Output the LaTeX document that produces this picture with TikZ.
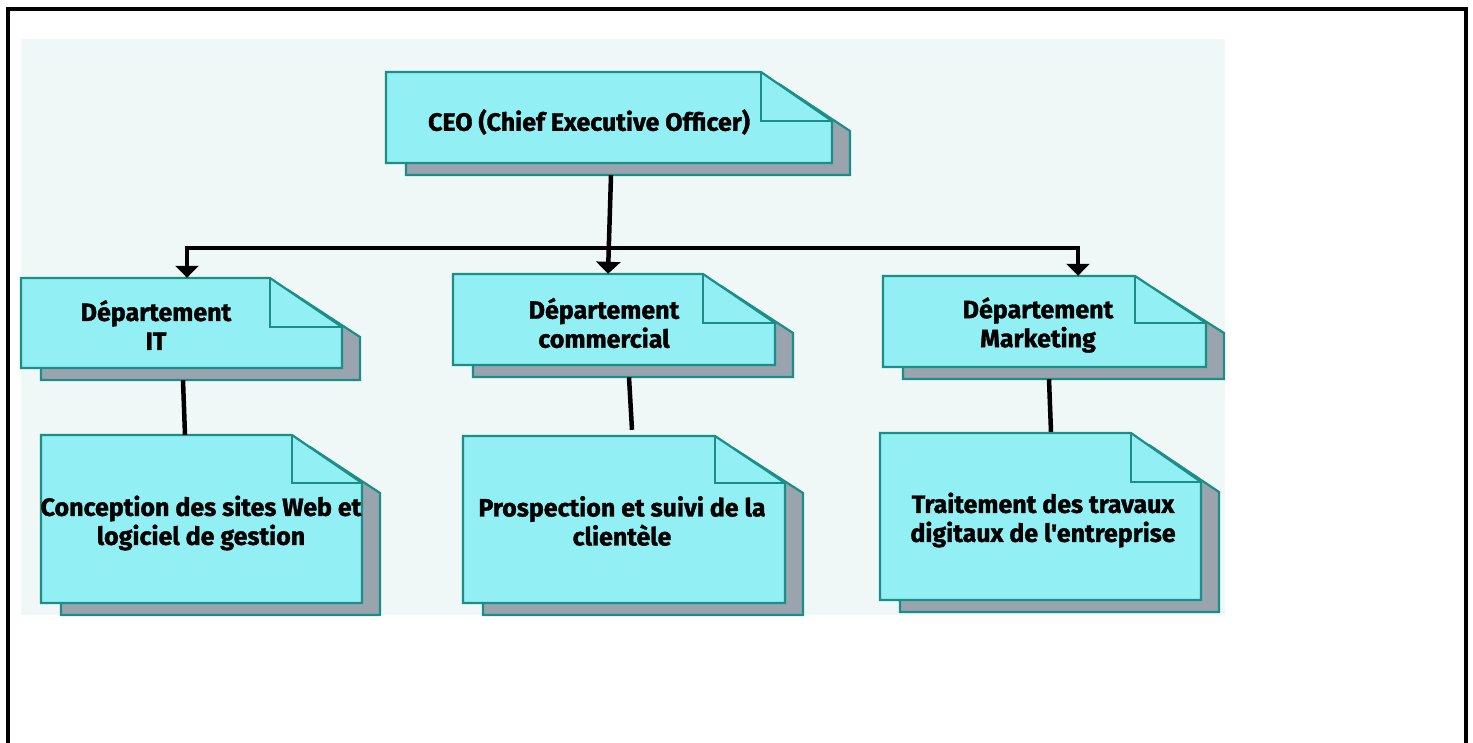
\documentclass[tikz,border=0pt]{standalone}
\usepackage{fontspec}
\setmainfont{Fira Sans}[Ligatures=TeXOff, BoldFeatures={FakeBold=1.3}]
\usetikzlibrary{arrows.meta,calc}

\definecolor{notefill}{RGB}{146,240,245}
\definecolor{noteedge}{RGB}{28,142,136}
\definecolor{noteshadow}{RGB}{154,164,174}
\definecolor{panel}{RGB}{239,248,247}

% folded-corner note with a grey drop shadow
% #1 name, #2 left, #3 top, #4 right, #5 bottom, #6 fold x, #7 fold y
\newcommand{\foldnote}[7]{%
  \filldraw[noteshadow, draw=noteedge, line width=2.2pt]
    (#2+20,#3+12) -- (#6+18,#3+12) -- (#4+18,#7+10) -- (#4+18,#5+12) -- (#2+20,#5+12) -- cycle;
  \filldraw[notefill, draw=noteedge, line width=2.2pt, line join=miter]
    (#2,#3) -- (#6,#3) -- (#4,#7) -- (#4,#5) -- (#2,#5) -- cycle;
  \draw[noteedge, line width=2.2pt] (#6,#3) -- (#6,#7) -- (#4,#7);
  \node[inner sep=0pt, minimum width={(#4-#2)*1pt}, minimum height={(#5-#3)*1pt}]
    (#1) at ({(#2+#4)/2},{(#3+#5)/2}) {};
}

\tikzset{
  notetext/.style={align=center, inner sep=0pt, text=black,
    font=\fontsize{25}{29}\selectfont\bfseries},
  link/.style={line width=4.5pt, draw=black},
  arrowlink/.style={line width=4.5pt, draw=black,
    -{Triangle[width=24pt,length=12pt]}},
  barlink/.style={line width=3.5pt, draw=black,
    {Triangle[width=23pt,length=12pt]}-{Triangle[width=23pt,length=12pt]}},
}

\begin{document}
\begin{tikzpicture}[x=1pt,y=-1pt]
  \useasboundingbox (0,0) rectangle (1473,742);
  \clip (0,0) rectangle (1473,742);

  % outer frame and light panel
  \draw[line width=4.5pt] (8,9) rectangle (1466,770);
  \fill[panel] (21,39) rectangle (1225,615);

  % boxes
  \foldnote{ceo}{386}{72}{832}{163}{761}{121}
  \foldnote{itdept}{21}{278}{342}{368}{270}{327}
  \foldnote{commercial}{453}{274}{775}{365}{703}{323}
  \foldnote{marketing}{883}{276}{1206}{367}{1135}{323}
  \foldnote{conception}{41}{435}{362}{603}{292}{483}
  \foldnote{prospection}{463}{436}{785}{603}{715}{483}
  \foldnote{traitement}{880}{433}{1201}{600}{1131}{482}

  % labels
  \node[notetext] (ceo-t) at (589,122) {CEO (Chief Executive Officer)};
  \node[notetext] (itdept-t) at (156,325) {Département\\IT};
  \node[notetext] (commercial-t) at (604,323) {Département\\commercial};
  \node[notetext] (marketing-t) at (1038,325) {Département\\Marketing};
  \node[notetext] (conception-t) at (201,523) {Conception des sites Web et\\logiciel de gestion};
  \node[notetext] (prospection-t) at (622,521) {Prospection et suivi de la\\clientèle};
  \node[notetext] (traitement-t) at (1043,520) {Traitement des travaux\\digitaux de l'entreprise};

  % connectors
  \draw[arrowlink] ([xshift=2pt,yshift=-12pt]ceo.south) -- ([xshift=-6pt]commercial.north);
  \draw[barlink] ([xshift=5.5pt]itdept.north) -- ++(0,-30) -| ([xshift=33.5pt]marketing.north);
  \draw[link] ([xshift=1.5pt,yshift=-12pt]itdept.south) -- ([xshift=-16.5pt]conception.north);
  \draw[link] ([xshift=15pt,yshift=-12pt]commercial.south) -- ([xshift=8pt,yshift=6pt]prospection.north);
  \draw[link] ([xshift=4.5pt,yshift=-12pt]marketing.south) -- ([xshift=10.5pt,yshift=1pt]traitement.north);
\end{tikzpicture}
\end{document}
